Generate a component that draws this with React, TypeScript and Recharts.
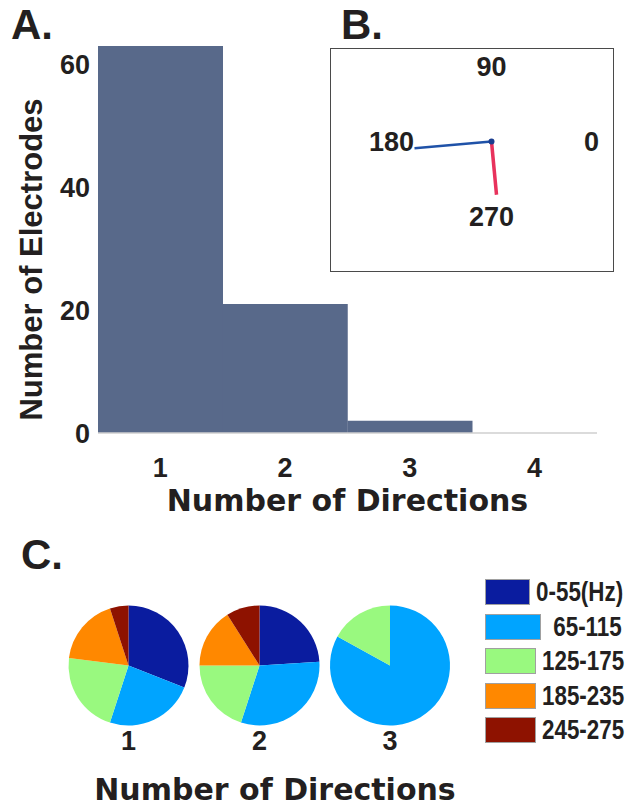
import React from 'react'
import {
  BarChart, Bar, XAxis, YAxis, Label, ScatterChart, Scatter, LabelList,
  PieChart, Pie, Cell, Legend,
} from 'recharts'

const directionCounts = ['1', '2', '3', '4']
const electrodeCounts = [63, 21, 2, 0]
const electrodeTicks = [0, 20, 40, 60]

const compassAngles = [0, 90, 180, 270]
const lowFreqVector = [{ x: 0, y: 0 }, { x: -0.77, y: -0.09 }]
const highFreqVector = [{ x: 0, y: 0 }, { x: 0.05, y: -0.71 }]

const bandLabels = ['0-55(Hz)', ' 65-115', '125-175', '185-235', '245-275']
const bandColors = ['#0a1c9f', '#00a4ff', '#99f97f', '#ff8800', '#8e1200']
const pieNames = ['1', '2', '3']
const pieOne = [31, 24, 22, 18, 5]
const pieTwo = [24, 31, 20, 16, 9]
const pieThree = [0, 83, 17, 0, 0]

const INK = '#231f20'
const ARIAL = '"Liberation Sans", Arial, sans-serif'
const WIDE = '"DejaVu Sans", sans-serif'

const barData = directionCounts.map((name, i) => ({ name, value: electrodeCounts[i] }))
const labelPoints = compassAngles.map(a => ({
  x: Math.cos((a * Math.PI) / 180),
  y: Math.sin((a * Math.PI) / 180),
  label: String(a),
}))
const pies = [pieOne, pieTwo, pieThree].map(vals =>
  vals.map((value, i) => ({ name: bandLabels[i], value })),
)
const pieCx = [128.5, 259.5, 390]

const tickStyle = { fontSize: 27, fontWeight: 700, fill: INK, fontFamily: ARIAL }
const noShape = () => <g />
const dotShape = (p: any) => <circle cx={p.cx} cy={p.cy} r={3} fill="#1a3d8f" />

const panelLetter = (text: string, left: number, top: number) => (
  <div style={{ position: 'absolute', left, top, fontFamily: ARIAL, fontWeight: 700, fontSize: 42, lineHeight: '42px', color: INK }}>
    {text}
  </div>
)

const BandLegend = ({ payload }: any) => {
  const names = new Set((payload || []).map((p: any) => p.value))
  const items = bandLabels.filter(b => names.has(b))
  return (
    <div>
      {items.map((name, i) => (
        <div key={i} style={{ display: 'flex', alignItems: 'center', height: 34.5 }}>
          <div style={{ width: 54, height: 24, background: bandColors[bandLabels.indexOf(name)], border: '1px solid #a0a0a0' }} />
          <span style={{ marginLeft: 6, fontFamily: ARIAL, fontWeight: 700, fontSize: 28, color: INK, whiteSpace: 'pre', display: 'inline-block', transform: 'scaleX(0.8)', transformOrigin: 'left center' }}>
            {name}
          </span>
        </div>
      ))}
    </div>
  )
}

export default function App() {
  return (
    <div style={{ position: 'absolute', left: 0, top: 0, width: 644, height: 806, background: '#fff', overflow: 'hidden' }}>
      {panelLetter('A.', 11, 4)}
      {panelLetter('B.', 341, 4)}
      {panelLetter('C.', 21, 534)}

      <div style={{ position: 'absolute', left: 0, top: 0 }}>
        <BarChart width={644} height={520} data={barData} margin={{ top: 46, right: 47, left: 0, bottom: 0 }} barCategoryGap={0}>
          <XAxis dataKey="name" interval={0} height={87} tickLine={false} tickMargin={19}
            axisLine={{ stroke: '#cfcfcf', strokeWidth: 1.5 }} tick={tickStyle}>
            <Label content={({ viewBox }: any) => (
              <text x={viewBox.x + viewBox.width / 2} y={viewBox.y + 78} textAnchor="middle"
                style={{ fontFamily: WIDE, fontWeight: 700, fontSize: 30, fill: INK }}>
                Number of Directions
              </text>
            )} />
          </XAxis>
          <YAxis domain={[0, 63]} ticks={electrodeTicks} width={98} axisLine={false} tickLine={false} tick={tickStyle}>
            <Label content={({ viewBox }: any) => {
              const cx = 42
              const cy = viewBox.y + viewBox.height / 2 + 20
              return (
                <text x={cx} y={cy} transform={`rotate(-90 ${cx} ${cy})`} textAnchor="middle"
                  style={{ fontFamily: ARIAL, fontWeight: 700, fontSize: 31, fill: INK }}>
                  Number of Electrodes
                </text>
              )
            }} />
          </YAxis>
          <Bar dataKey="value" fill="#58698a" isAnimationActive={false} />
        </BarChart>
      </div>

      <div style={{ position: 'absolute', left: 330, top: 48, width: 282, height: 222, border: '1.5px solid #4a4a4a', background: '#fff' }}>
        <ScatterChart width={282} height={222} margin={{ top: 0, right: 0, bottom: 0, left: 0 }}>
          <XAxis type="number" dataKey="x" domain={[-1.605, 1.215]} hide />
          <YAxis type="number" dataKey="y" domain={[-1.727, 1.233]} hide />
          <Scatter data={labelPoints} shape={noShape} isAnimationActive={false}>
            <LabelList dataKey="label" position="center" style={{ ...tickStyle, stroke: 'none' }} />
          </Scatter>
          <Scatter data={highFreqVector} fill="#e8325c" line={{ strokeWidth: 3.5 }} shape={noShape} isAnimationActive={false} />
          <Scatter data={lowFreqVector} fill="#1f52a8" line={{ strokeWidth: 2.5 }} shape={noShape} isAnimationActive={false} />
          <Scatter data={lowFreqVector.slice(0, 1)} fill="#1a3d8f" shape={dotShape} isAnimationActive={false} />
        </ScatterChart>
      </div>

      <div style={{ position: 'absolute', left: 0, top: 540 }}>
        <PieChart width={644} height={266} margin={{ top: 0, right: 0, bottom: 0, left: 0 }}>
          {pies.map((data, k) => (
            <Pie key={k} data={data} dataKey="value" nameKey="name" cx={pieCx[k]} cy={125.5}
              outerRadius={60} startAngle={90} endAngle={-270} stroke="none" isAnimationActive={false}>
              {data.map((_, i) => <Cell key={i} fill={bandColors[i]} />)}
            </Pie>
          ))}
          <Legend content={<BandLegend />} wrapperStyle={{ position: 'absolute', left: 485, top: 35, width: 160 }} />
        </PieChart>
      </div>

      {pieNames.map((n, k) => (
        <div key={n} style={{ position: 'absolute', left: pieCx[k] - 20, width: 40, top: 726, textAlign: 'center', fontFamily: ARIAL, fontWeight: 700, fontSize: 27, lineHeight: '30px', color: INK }}>
          {n}
        </div>
      ))}
      <div style={{ position: 'absolute', left: 0, width: 550, top: 772, textAlign: 'center', fontFamily: WIDE, fontWeight: 700, fontSize: 30, lineHeight: '36px', color: INK }}>
        Number of Directions
      </div>
    </div>
  )
}
